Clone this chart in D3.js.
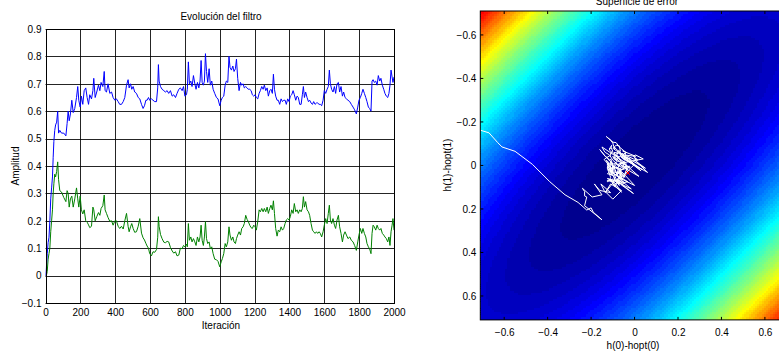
<!DOCTYPE html>
<html><head><meta charset="utf-8">
<script src="https://cdn.jsdelivr.net/npm/d3@7"></script>
<style>
html,body{margin:0;padding:0;background:#fff;}
svg{display:block;font-family:"Liberation Sans",Arial,Helvetica,sans-serif;}
</style></head>
<body>
<svg id="chart" width="779" height="361"></svg>
<script>
// ---------- DATA ----------
const iteration = [
 0,5,10,15,20,25,30,35,40,44,48,53,58,64,70,75,
 82,92,105,117,124,130,136,143,151,159,168,178,185,191,199,206,214,222,231,239,247,254,264,272,277,285,294,304,312,319,329,337,342,350,359,369,379,388,398,407,417,426,436,446,
 455,465,474,480,488,495,503,512,522,532,541,551,560,568,576,583,591,598,608,617,627,637,644,648,652,660,669,679,688,698,707,717,727,736,746,755,765,774,784,792,800,809,814,
 820,826,834,841,849,857,864,872,880,887,893,899,906,912,918,924,931,939,946,954,962,971,981,990,1000,
 1008,1015,1023,1031,1038,1046,1053,1059,1067,1075,1082,1090,1096,1103,1111,1119,1126,1134,1141,1149,1157,1164,1172,1180,1187,1195,1203,1210,
 1218,1226,1233,1241,1249,1256,1264,1272,1279,1287,1294,1302,1308,1314,1321,1329,1336,1344,
 1352,1360,1367,1375,1382,1390,1398,1405,1413,1421,1428,1436,1444,1451,1459,1467,1474,1480,1486,1493,1501,1509,1516,1524,1532,1539,1547,1555,1562,1570,1577,1585,1593,1600,
 1608,1616,1623,1629,1635,1642,1650,1658,1665,1673,1681,1688,1696,1704,1711,1719,1727,1736,1746,1755,1765,1774,1784,1792,1799,1807,1815,1822,1830,1838,1845,1853,1860,1868,1874,1880,1887,1895,1903,1910,1918,1925,1933,1941,1948,1956,1964,1971,1977,1983,1989,1994,2000
];
// h(0): blue series
const h0 = [
 0,0.03,0.08,0.12,0.14, 0.2,0.28,0.32,0.36,0.43, 0.49,0.53,0.55,0.56,0.6, 0.52,
 0.53,0.52,0.52,0.51,0.555, 0.6,0.565,0.59,0.64,0.595, 0.61,0.65,0.69,0.64,0.615, 0.655,0.625,0.675,0.685,0.65, 0.625,0.66,0.645,0.675,0.72, 0.65,0.67,0.695,0.675,0.705, 0.69,0.745,0.675,0.67,0.70, 0.665,0.67,0.65,0.64,0.645, 0.635,0.625,0.625,0.635,
 0.65,0.695,0.715,0.685,0.70, 0.68,0.69,0.67,0.665,0.65, 0.645,0.625,0.61,0.62,0.64, 0.64,0.65,0.64,0.645,0.64, 0.635,0.635,0.685,0.77,0.71, 0.69,0.68,0.675,0.67,0.675, 0.665,0.675,0.655,0.66,0.65, 0.665,0.68,0.685,0.675,0.69, 0.655,0.66,0.68,
 0.78,0.70,0.71,0.69,0.73, 0.70,0.68,0.705,0.685,0.71, 0.785,0.705,0.695,0.71,0.81, 0.745,0.705,0.755,0.695,0.71, 0.68,0.665,0.65,0.645,0.62,
 0.64,0.65,0.655,0.695,0.71, 0.705,0.80,0.76,0.75,0.765, 0.745,0.755,0.79,0.72,0.675, 0.705,0.695,0.70,0.685,0.69, 0.685,0.68,0.68,0.675,0.66, 0.655,0.66,0.65,
 0.645,0.665,0.675,0.69,0.68, 0.695,0.675,0.685,0.655,0.675, 0.68,0.665,0.735,0.68,0.655, 0.64,0.64,0.625,
 0.645,0.635,0.64,0.64,0.625, 0.645,0.635,0.655,0.66,0.675, 0.66,0.64,0.655,0.65,0.625, 0.625,0.66,0.69,0.65,0.67, 0.65,0.635,0.64,0.63,0.625, 0.635,0.625,0.63,0.63,0.625, 0.625,0.62,0.64,0.675,
 0.665,0.68,0.69,0.75,0.70, 0.68,0.67,0.69,0.665,0.70, 0.705,0.67,0.69,0.655,0.67, 0.65,0.645,0.64,0.635,0.625, 0.615,0.605,0.59,0.615,0.64, 0.65,0.665,0.68,0.665,0.65, 0.635,0.615,0.61,0.60,0.71, 0.715,0.705,0.71,0.695,0.73, 0.71,0.72,0.695,0.68,0.665, 0.655,0.65,0.665,0.695,0.75, 0.725,0.705,0.725
];
// h(1): green series
const h1 = [
 0,0.0,0.015,0.06,0.08, 0.1,0.16,0.2,0.24,0.3, 0.335,0.37,0.36,0.38,0.415, 0.35,
 0.31,0.305,0.285,0.27,0.31, 0.30,0.25,0.28,0.29,0.25, 0.28,0.32,0.28,0.25,0.29, 0.24,0.225,0.24,0.2,0.195, 0.185,0.175,0.18,0.25,0.24, 0.2,0.215,0.23,0.22,0.245, 0.255,0.294,0.24,0.227,0.212, 0.198,0.2,0.184,0.2,0.2, 0.18,0.172,0.18,0.17,
 0.2,0.227,0.18,0.16,0.178, 0.19,0.172,0.158,0.16,0.18, 0.208,0.155,0.138,0.13,0.118, 0.108,0.1,0.08,0.072,0.087, 0.085,0.095,0.14,0.215,0.18, 0.15,0.135,0.122,0.12,0.125, 0.123,0.103,0.09,0.082,0.087, 0.072,0.075,0.1,0.098,0.11, 0.105,0.115,0.105,
 0.19,0.129,0.141,0.123,0.135, 0.123,0.11,0.141,0.123,0.141, 0.184,0.129,0.11,0.141,0.197, 0.135,0.117,0.123,0.098,0.105, 0.08,0.06,0.058,0.052,0.032,
 0.05,0.062,0.08,0.117,0.105, 0.123,0.178,0.148,0.129,0.141, 0.123,0.117,0.135,0.148,0.16, 0.148,0.172,0.178,0.19,0.22, 0.205,0.197,0.184,0.175,0.172, 0.184,0.178,0.166,
 0.197,0.24,0.233,0.245,0.233, 0.245,0.233,0.25,0.227,0.245, 0.257,0.24,0.273,0.227,0.172, 0.144,0.166,0.16,
 0.178,0.166,0.172,0.19,0.203, 0.208,0.203,0.215,0.24,0.227, 0.263,0.233,0.24,0.227,0.24, 0.233,0.245,0.288,0.25,0.27, 0.24,0.233,0.22,0.19,0.166, 0.16,0.154,0.16,0.154,0.16, 0.154,0.141,0.16,0.184,
 0.208,0.19,0.227,0.257,0.203, 0.19,0.208,0.184,0.172,0.203, 0.22,0.178,0.154,0.123,0.148, 0.16,0.148,0.135,0.141,0.129, 0.123,0.11,0.092,0.123,0.148, 0.172,0.154,0.172,0.154,0.141, 0.117,0.105,0.098,0.08,0.154, 0.184,0.178,0.166,0.184,0.172, 0.166,0.172,0.154,0.148,0.141, 0.135,0.123,0.141,0.11,0.16, 0.184,0.208,0.166
];
const xTicksL = [0,200,400,600,800,1000,1200,1400,1600,1800,2000];
const yTicksL = [-0.1,0,0.1,0.2,0.3,0.4,0.5,0.6,0.7,0.8,0.9];
const ticksR = [-0.6,-0.4,-0.2,0,0.2,0.4,0.6];
const hopt = [0.75, 0.165];          // optimum filter
const autocorr = [1, 0.85];          // r(0), r(1) of the input
const surfaceRange = [-0.75, 0.75];  // grid of the error surface
const surfaceStep = 0.01;
const finalMark = [-0.03, 0.035];    // red cross

// ---------- SETUP ----------
const svg = d3.select("#chart");
svg.append("rect").attr("width",779).attr("height",361).attr("fill","#fff");
const FS = 10;
const fmt = d => Math.abs(d) < 1e-9 ? "0" : d3.format(".1f")(d);

// ---------- LEFT CHART ----------
const xL = d3.scaleLinear().domain([0,2000]).range([45.5,394]);
const yL = d3.scaleLinear().domain([-0.1,0.9]).range([303,29]);
const gL = svg.append("g");
gL.append("g").selectAll("line").data(xTicksL).join("line")
  .attr("x1",d=>Math.round(xL(d))+0.5).attr("x2",d=>Math.round(xL(d))+0.5)
  .attr("y1",yL(0.9)).attr("y2",yL(-0.1)).attr("stroke","#000").attr("stroke-width",1).attr("opacity",0.85);
gL.append("g").selectAll("line").data(yTicksL).join("line")
  .attr("y1",d=>Math.round(yL(d))+0.5).attr("y2",d=>Math.round(yL(d))+0.5)
  .attr("x1",xL(0)).attr("x2",xL(2000)).attr("stroke","#000").attr("stroke-width",1).attr("opacity",0.85);
svg.append("clipPath").attr("id","clipL").append("rect")
  .attr("x",xL(0)).attr("y",yL(0.9)).attr("width",xL(2000)-xL(0)).attr("height",yL(-0.1)-yL(0.9));
const lineL = (arr) => d3.line().x((d,i)=>xL(iteration[i])).y(d=>yL(d))(arr);
gL.append("path").attr("d",lineL(h1)).attr("fill","none").attr("stroke","#008000").attr("stroke-width",1).attr("clip-path","url(#clipL)");
gL.append("path").attr("d",lineL(h0)).attr("fill","none").attr("stroke","#0000ff").attr("stroke-width",1).attr("clip-path","url(#clipL)");
gL.append("rect").attr("x",Math.round(xL(0))+0.5).attr("y",Math.round(yL(0.9))+0.5)
  .attr("width",Math.round(xL(2000))-Math.round(xL(0))).attr("height",Math.round(yL(-0.1))-Math.round(yL(0.9)))
  .attr("fill","none").attr("stroke","#000").attr("stroke-width",1);
const axLx = gL.append("g").attr("transform",`translate(0,${yL(-0.1)})`)
  .call(d3.axisBottom(xL).tickValues(xTicksL).tickSize(0).tickPadding(6).tickFormat(d3.format("d")));
const axLy = gL.append("g").attr("transform",`translate(${xL(0)},0)`)
  .call(d3.axisLeft(yL).tickValues(yTicksL).tickSize(0).tickPadding(4).tickFormat(fmt));
[axLx,axLy].forEach(a=>{a.select(".domain").remove(); a.selectAll("text").attr("font-size",FS).attr("fill","#000").attr("font-family","Liberation Sans, Arial, sans-serif");});
gL.append("text").attr("x",221).attr("y",20).attr("text-anchor","middle").attr("font-size",FS).text("Evolución del filtro");
gL.append("text").attr("x",221).attr("y",329).attr("text-anchor","middle").attr("font-size",FS).text("Iteración");
gL.append("text").attr("transform","translate(18.5,166) rotate(-90)").attr("text-anchor","middle").attr("font-size",FS).text("Amplitud");

// ---------- RIGHT CHART ----------
const xR = d3.scaleLinear().domain([-0.71,0.71]).range([480.3,788.8]);
const yR = d3.scaleLinear().domain([-0.71,0.71]).range([11,319.9]);
const gR = svg.append("g");
svg.append("clipPath").attr("id","clipR").append("rect")
  .attr("x",xR(-0.71)).attr("y",yR(-0.71)).attr("width",xR(0.71)-xR(-0.71)).attr("height",yR(0.71)-yR(-0.71));
function jet(m){
  const n = Math.ceil(m/4), u=[];
  for(let i=1;i<=n;i++) u.push(i/n);
  for(let i=1;i<n;i++) u.push(1);
  for(let i=n;i>=1;i--) u.push(i/n);
  const g0 = Math.ceil(n/2) - (m%4===1?1:0);
  const cm = d3.range(m).map(()=>[0,0,0]);
  u.forEach((v,k)=>{
    const gi = g0+k+1, ri = gi+n, bi = gi-n;
    if(gi>=1&&gi<=m) cm[gi-1][1]=v;
    if(ri>=1&&ri<=m) cm[ri-1][0]=v;
    if(bi>=1&&bi<=m) cm[bi-1][2]=v;
  });
  return cm.map(c=>d3.rgb(c[0]*255,c[1]*255,c[2]*255).toString());
}
const cmap = jet(64);
const nG = Math.round((surfaceRange[1]-surfaceRange[0])/surfaceStep)+1;
const gridV = d3.range(nG).map(i=>surfaceRange[0]+i*surfaceStep);
const Q = (a,b) => autocorr[0]*a*a + 2*autocorr[1]*a*b + autocorr[0]*b*b;
let qmin=Infinity,qmax=-Infinity;
gridV.forEach(a=>gridV.forEach(b=>{const q=Q(a,b); if(q<qmin)qmin=q; if(q>qmax)qmax=q;}));
const colorIdx = d3.scaleQuantize().domain([qmin,qmax]).range(d3.range(64));
const cells=[];
gridV.forEach(a=>{ if(a<-0.72||a>0.72) return; gridV.forEach(b=>{ if(b<-0.72||b>0.72) return; cells.push([a,b]); }); });
const cw = xR(surfaceStep)-xR(0), ch = yR(surfaceStep)-yR(0);
gR.append("g").attr("clip-path","url(#clipR)").attr("shape-rendering","crispEdges")
  .selectAll("rect").data(cells).join("rect")
  .attr("x",d=>xR(d[0]-surfaceStep/2)).attr("y",d=>yR(d[1]-surfaceStep/2))
  .attr("width",cw+0.6).attr("height",ch+0.6)
  .attr("fill",d=>cmap[colorIdx(Q(d[0],d[1]))]);
const traj = h0.map((v,i)=>[v-hopt[0], h1[i]-hopt[1]]);
gR.append("path").attr("clip-path","url(#clipR)")
  .attr("d",d3.line().x(d=>xR(d[0])).y(d=>yR(d[1]))(traj))
  .attr("fill","none").attr("stroke","#fff").attr("stroke-width",1);
const mx = xR(finalMark[0]), my = yR(finalMark[1]);
gR.append("path").attr("d",`M${mx-2},${my-2}L${mx+2},${my+2}M${mx-2},${my+2}L${mx+2},${my-2}`)
  .attr("stroke","#ff0000").attr("stroke-width",1);
const L = xR(-0.71), T = yR(-0.71), B = yR(0.71), Rr = xR(0.71);
gR.append("rect").attr("x",L).attr("y",T).attr("width",Rr-L).attr("height",B-T)
  .attr("fill","none").attr("stroke","#000").attr("stroke-width",1);
gR.append("g").selectAll("line").data(ticksR).join("line")
  .attr("x1",d=>xR(d)).attr("x2",d=>xR(d)).attr("y1",B).attr("y2",B-3).attr("stroke","#000");
gR.append("g").selectAll("line").data(ticksR).join("line")
  .attr("x1",d=>xR(d)).attr("x2",d=>xR(d)).attr("y1",T).attr("y2",T+3).attr("stroke","#000");
gR.append("g").selectAll("line").data(ticksR).join("line")
  .attr("y1",d=>yR(d)).attr("y2",d=>yR(d)).attr("x1",L).attr("x2",L+3).attr("stroke","#000");
const axRx = gR.append("g").attr("transform",`translate(0,${B})`)
  .call(d3.axisBottom(xR).tickValues(ticksR).tickSize(0).tickPadding(9).tickFormat(fmt));
const axRy = gR.append("g").attr("transform",`translate(${L},0)`)
  .call(d3.axisLeft(yR).tickValues(ticksR).tickSize(0).tickPadding(4).tickFormat(fmt));
[axRx,axRy].forEach(a=>{a.select(".domain").remove(); a.selectAll("text").attr("font-size",FS).attr("fill","#000").attr("font-family","Liberation Sans, Arial, sans-serif");});
gR.append("text").attr("x",637).attr("y",5).attr("text-anchor","middle").attr("font-size",FS).text("Superficie de error");
gR.append("text").attr("x",633).attr("y",349).attr("text-anchor","middle").attr("font-size",FS).text("h(0)-hopt(0)");
gR.append("text").attr("transform","translate(451,165) rotate(-90)").attr("text-anchor","middle").attr("font-size",FS).text("h(1)-hopt(1)");
</script>
</body></html>
